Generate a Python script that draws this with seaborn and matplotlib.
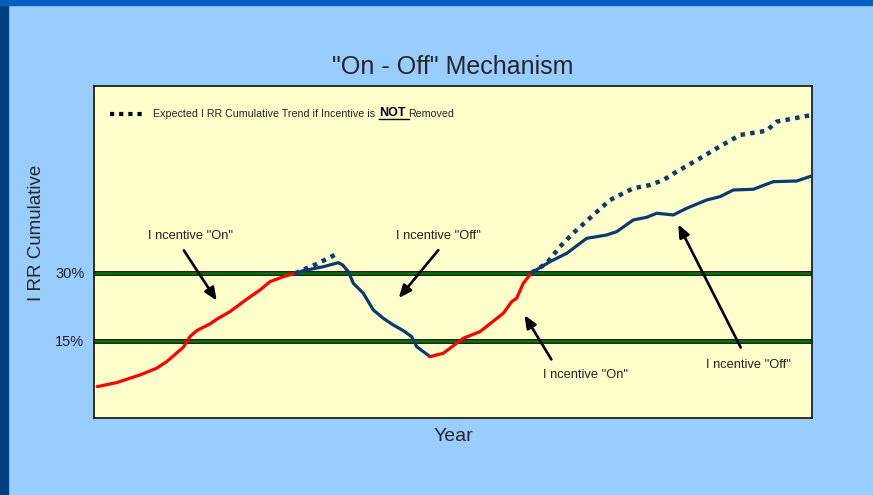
import numpy as np
import pandas as pd
import matplotlib
matplotlib.use('Agg')
import matplotlib.pyplot as plt
import matplotlib.patheffects as pe
from matplotlib.patches import Rectangle
import seaborn as sns

# Values (x: position along the year axis, 0-100; y: IRR %)
t_on1 = [0.46, 3.16, 6.41, 8.73, 10.13, 12.44, 13.37, 14.30, 16.16, 17.09, 18.94, 21.27, 23.12, 24.51, 26.37, 28.0]
irr_on1 = [4.92, 5.81, 7.50, 8.98, 10.44, 13.61, 15.96, 17.28, 18.76, 19.79, 21.47, 24.20, 26.25, 28.08, 29.18, 29.93]

t_off1 = [28.0, 29.15, 31.94, 34.02, 34.64, 35.42, 36.12, 37.51, 38.90, 40.29, 41.68, 43.08, 44.24, 44.94, 46.80]
irr_off1 = [29.93, 30.5, 31.38, 32.27, 31.76, 30.29, 27.73, 25.52, 21.84, 20.0, 18.53, 17.27, 15.95, 13.74, 11.54]

t_exp1 = [28.0, 31.02, 34.02]
irr_exp1 = [29.93, 31.99, 34.35]

t_on2 = [46.80, 48.66, 51.44, 53.76, 57.01, 58.18, 58.87, 59.79, 60.96]
irr_on2 = [11.54, 12.29, 15.60, 17.05, 21.11, 23.67, 24.42, 27.73, 30.07]

t_off2 = [60.96, 63.51, 65.83, 68.62, 71.40, 72.80, 75.11, 76.98, 78.37, 80.68, 82.55, 85.33, 87.19, 89.04, 91.82, 94.61, 97.87, 99.96]
irr_off2 = [30.07, 32.49, 34.33, 37.64, 38.38, 39.11, 41.69, 42.29, 43.17, 42.80, 44.27, 46.10, 46.83, 48.31, 48.46, 50.14, 50.29, 51.40]

t_exp2 = [60.96, 63.05, 64.90, 66.75, 69.54, 71.87, 75.11, 77.44, 79.29, 81.16, 84.40, 86.73, 89.97, 93.69, 95.08, 99.96]
irr_exp2 = [30.07, 32.14, 35.81, 38.79, 42.79, 46.10, 48.68, 49.41, 50.51, 52.35, 55.30, 57.50, 60.44, 61.39, 63.38, 64.85]

band_levels = [15, 30]
band_labels = ['15%', '30%']

RED = '#FF0000'
BLUE = '#0B3A73'
GREEN = '#0A7A0A'

sns.set_style('white')
plt.rcParams['font.family'] = ['Liberation Sans', 'DejaVu Sans']

fig = plt.figure(figsize=(8.73, 4.95), dpi=100, facecolor='#99CCFF')
# slide frame strips
fig.patches.append(Rectangle((0, 0), 8 / 873, 1, transform=fig.transFigure, color='#00407F', zorder=0))
fig.patches.append(Rectangle((0, 1 - 5 / 495), 1, 5 / 495, transform=fig.transFigure, color='#0060C0', zorder=0))

ax = fig.add_axes([94 / 873, 1 - 418 / 495, 718 / 873, 332 / 495])
ax.set_facecolor('#FFFFCC')

# threshold lines
for lvl in band_levels:
    ax.axhline(lvl, color=GREEN, lw=1.8, zorder=2,
               path_effects=[pe.Stroke(linewidth=3.4, foreground='black'), pe.Normal()])

# expected trend (dotted)
for tx, ty in [(t_exp1, irr_exp1), (t_exp2, irr_exp2)]:
    sns.lineplot(x=tx, y=ty, ax=ax, color=BLUE, lw=3.2, sort=False,
                 linestyle=(0, (1, 1.2)), dash_capstyle='butt', zorder=3)

# actual IRR segments
segments = [(t_on1, irr_on1, RED), (t_off1, irr_off1, BLUE),
            (t_on2, irr_on2, RED), (t_off2, irr_off2, BLUE)]
for tx, ty, c in segments:
    sns.lineplot(x=tx, y=ty, ax=ax, color=c, lw=2.3, sort=False, zorder=4)

ax.set_xlim(0, 100)
ax.set_ylim(-2, 71.25)
ax.set_xticks([])
ax.set_yticks(band_levels)
ax.set_yticklabels(band_labels, fontsize=10.5, color='#222222')
ax.tick_params(axis='y', length=0, pad=7)
for s in ax.spines.values():
    s.set_visible(True)
    s.set_color('#111111')
    s.set_linewidth(1.2)

ax.set_title('"On - Off" Mechanism', fontsize=18, pad=9)
ax.set_xlabel('Year', fontsize=14, labelpad=7)
ax.set_ylabel('I RR Cumulative', fontsize=13.5)
ax.yaxis.set_label_coords(-0.068, 0.557)

# arrows with labels
arrow_kw = dict(arrowstyle='-|>,head_length=0.75,head_width=0.32', color='black', lw=1.9)
notes = [
    ('I ncentive "On"', (13.4, 38.2), (12.3, 35.5), (17.3, 23.4)),
    ('I ncentive "Off"', (48.0, 38.2), (48.2, 35.5), (42.2, 24.0)),
    ('I ncentive "On"', (68.5, 7.5), (63.9, 10.4), (59.75, 21.2)),
    ('I ncentive "Off"', (91.1, 9.7), (90.25, 13.0), (81.2, 41.25)),
]
for label, txt_pos, tail, head in notes:
    ax.text(*txt_pos, label, ha='center', va='center', fontsize=9.3, color='#222222')
    ax.annotate('', xy=head, xytext=tail, arrowprops=arrow_kw, zorder=5)

# custom legend
ax.plot([0.022, 0.072], [0.916, 0.916], transform=ax.transAxes, color='black', lw=3.0,
        linestyle=(0, (1, 1.2)), dash_capstyle='butt')
t1 = ax.text(0.082, 0.916, 'Expected I RR Cumulative Trend if Incentive is', transform=ax.transAxes,
             fontsize=7.7, va='center', color='#222222')
t2 = ax.annotate('NOT', xy=(1, 0), xycoords=t1, xytext=(3, 0), textcoords='offset points',
                 fontsize=9, fontweight='bold', va='bottom', color='black')
ax.annotate('', xy=(0, -0.05), xycoords=t2, xytext=(1.15, -0.05), textcoords=t2,
            arrowprops=dict(arrowstyle='-', color='black', lw=1.0, shrinkA=0, shrinkB=0))
ax.annotate('Removed', xy=(1, 0), xycoords=t2, xytext=(2, 0), textcoords='offset points',
            fontsize=7.7, va='bottom', color='#222222')

fig.savefig('out.png', dpi=100, facecolor=fig.get_facecolor())
